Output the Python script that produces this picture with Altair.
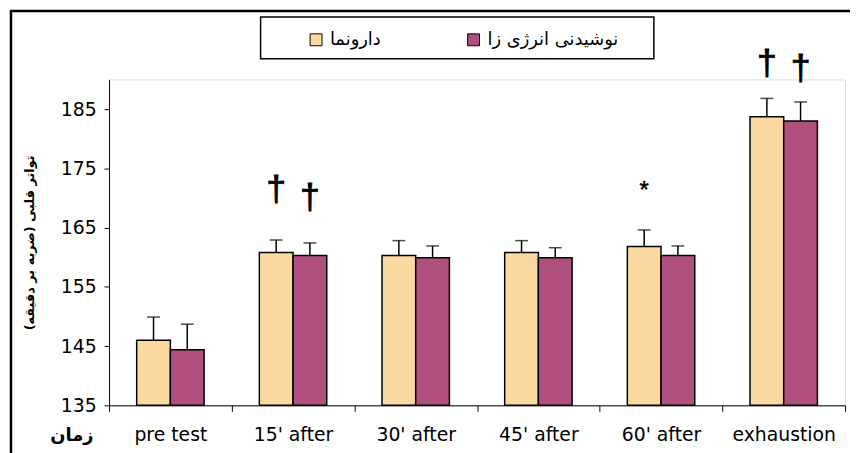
import altair as alt
import pandas as pd

categories = ["pre test", "15' after", "30' after", "45' after", "60' after", "exhaustion"]
groups = ["دارونما", "نوشیدنی انرژی زا"]
placebo = [146.0, 160.8, 160.3, 160.8, 161.8, 183.7]
placebo_err = [149.9, 162.9, 162.8, 162.8, 164.6, 186.8]
energy = [144.4, 160.3, 159.9, 159.9, 160.3, 183.0]
energy_err = [148.7, 162.4, 161.9, 161.6, 161.9, 186.2]
y_ticks = [135, 145, 155, 165, 175, 185]

dag_cat = ["15' after", "15' after", "exhaustion", "exhaustion"]
dag_grp = [groups[0], groups[1], groups[0], groups[1]]
dag_y = [171.3, 170.0, 192.6, 191.8]
star_cat = ["60' after"]
star_grp = [groups[0]]
star_y = [171.2]

colors = ["#FCD9A0", "#B0507F"]
FONT = "DejaVu Sans"

rows = []
for i, c in enumerate(categories):
    rows.append({"cat": c, "grp": groups[0], "val": placebo[i], "err": placebo_err[i]})
    rows.append({"cat": c, "grp": groups[1], "val": energy[i], "err": energy_err[i]})
df = pd.DataFrame(rows)
dag = pd.DataFrame({"cat": dag_cat, "grp": dag_grp, "y": dag_y, "sym": ["†"] * len(dag_y)})
star = pd.DataFrame({"cat": star_cat, "grp": star_grp, "y": star_y, "sym": ["*"] * len(star_y)})

x_enc = alt.X("cat:N", sort=categories,
              scale=alt.Scale(paddingInner=0, paddingOuter=0),
              axis=alt.Axis(title="زمان", titleFontSize=18, titleFontWeight="bold",
                            titleX=-38, titleY=31, titleBaseline="middle",
                            labelAngle=0, labelFontSize=19, labelPadding=14,
                            tickSize=6, tickBand="extent", labelColor="black",
                            domainColor="black", tickColor="black", titleColor="black",
                            labelFont=FONT, titleFont=FONT))
xo_enc = alt.XOffset("grp:N", sort=groups, scale=alt.Scale(paddingOuter=0.82, paddingInner=0))
y_scale = alt.Scale(domain=[135, 190], zero=False, nice=False)

bars = alt.Chart(df).mark_bar(stroke="black", strokeWidth=1.5).encode(
    x=x_enc,
    xOffset=xo_enc,
    y=alt.Y("val:Q", scale=y_scale,
            axis=alt.Axis(values=y_ticks, title="تواتر قلبی (ضربه بر دقیقه)",
                          titleFontSize=13, titleFontWeight="bold", titleX=-80,
                          titleBaseline="middle", labelFontSize=19, labelPadding=8,
                          tickSize=5, grid=False, labelColor="black",
                          domainColor="black", tickColor="black", titleColor="black",
                          labelFont=FONT, titleFont=FONT)),
    y2=alt.datum(135),
    color=alt.Color("grp:N", scale=alt.Scale(domain=groups, range=colors),
                    legend=alt.Legend(orient="none", legendX=200, legendY=-49,
                                      direction="horizontal", title=None,
                                      symbolType="square", symbolSize=144,
                                      symbolStrokeColor="black", symbolStrokeWidth=1,
                                      symbolOpacity=1, labelFontSize=18, labelFont=FONT,
                                      labelColor="black", columnPadding=84, labelOffset=5,
                                      labelLimit=300)),
)

err_rule = alt.Chart(df).mark_rule(color="black", strokeWidth=1.5).encode(
    x=alt.X("cat:N", sort=categories), xOffset=alt.XOffset("grp:N", sort=groups),
    y=alt.Y("val:Q"), y2="err:Q")
err_cap = alt.Chart(df).mark_tick(color="black", thickness=1.5, size=13).encode(
    x=alt.X("cat:N", sort=categories), xOffset=alt.XOffset("grp:N", sort=groups),
    y=alt.Y("err:Q"))

daggers = alt.Chart(dag).mark_text(fontSize=36, color="black", baseline="middle",
                                   font="Liberation Sans", stroke="black",
                                   strokeWidth=0.8).encode(
    x=alt.X("cat:N", sort=categories), xOffset=alt.XOffset("grp:N", sort=groups),
    y=alt.Y("y:Q"), text="sym:N")
stars = alt.Chart(star).mark_text(fontSize=24, color="black", baseline="middle",
                                  font="Liberation Sans", stroke="black",
                                  strokeWidth=0.5).encode(
    x=alt.X("cat:N", sort=categories), xOffset=alt.XOffset("grp:N", sort=groups),
    y=alt.Y("y:Q"), text="sym:N")

one = pd.DataFrame({"a": [0]})
legend_box = alt.Chart(one).mark_rect(fillOpacity=0, stroke="black", strokeWidth=1.5).encode(
    x=alt.value(153), x2=alt.value(550), y=alt.value(-63), y2=alt.value(-21))
frame_top = alt.Chart(one).mark_rule(color="black", strokeWidth=2.5).encode(
    x=alt.value(-100), x2=alt.value(760), y=alt.value(-69))
frame_left = alt.Chart(one).mark_rule(color="black", strokeWidth=2.5).encode(
    x=alt.value(-99), y=alt.value(-70), y2=alt.value(380))

chart = alt.layer(bars, err_rule, err_cap, daggers, stars, legend_box, frame_top, frame_left).properties(
    width=743, height=329,
    autosize=alt.AutoSizeParams(type="none"),
    padding={"left": 102, "top": 70, "right": 5, "bottom": 46},
).configure_view(stroke=None).configure(font=FONT)

chart.save("out.html", embed_options={"renderer": "svg", "actions": False})
